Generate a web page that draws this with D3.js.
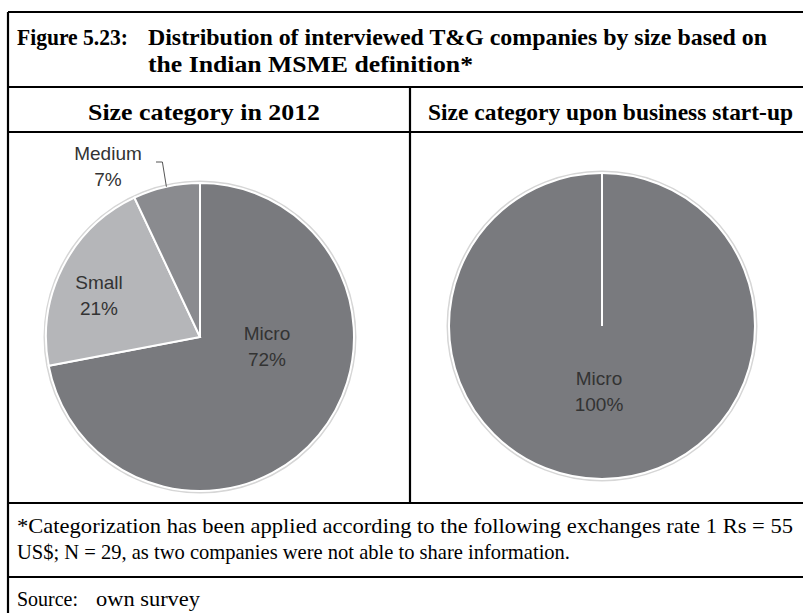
<!DOCTYPE html>
<html>
<head>
<meta charset="utf-8">
<script src="https://cdn.jsdelivr.net/npm/d3@7"></script>
<style>
  body { margin: 0; background: #fff; }
  svg { display: block; }
</style>
</head>
<body>
<script>
// data
var sizes2012 = ['Micro', 'Small', 'Medium'];
var shares2012 = [72, 21, 7];
var sizesStart = ['Micro'];
var sharesStart = [100];
var headers = ['Size category in 2012', 'Size category upon business start-up'];

var svg = d3.select('body').append('svg')
  .attr('width', 803)
  .attr('height', 613);

var serif = '"Liberation Serif", "Times New Roman", serif';
var sans = '"Liberation Sans", Arial, sans-serif';

var colorScale = d3.scaleOrdinal()
  .domain(['Micro', 'Small', 'Medium'])
  .range(['#797a7e', '#b5b6b9', '#8a8b8f']);

// table frame
var lines = [
  [8, 12, 803, 12],
  [8, 87, 803, 87],
  [8, 132, 803, 132],
  [8, 503, 803, 503],
  [8, 577, 803, 577],
  [8, 12, 8, 613],
  [410, 87, 410, 503]
];
svg.selectAll('.frame')
  .data(lines)
  .enter()
  .append('line')
  .attr('class', 'frame')
  .attr('x1', function (d) { return d[0]; })
  .attr('y1', function (d) { return d[1]; })
  .attr('x2', function (d) { return d[2]; })
  .attr('y2', function (d) { return d[3]; })
  .attr('stroke', '#000')
  .attr('stroke-width', 2.2);

function fitText(x, y, str, len, opts) {
  var t = svg.append('text')
    .attr('x', x)
    .attr('y', y)
    .attr('font-family', serif)
    .attr('font-size', opts.size)
    .attr('font-weight', opts.bold ? 'bold' : 'normal')
    .attr('fill', '#000')
    .text(str);
  if (len) {
    t.attr('textLength', len).attr('lengthAdjust', 'spacingAndGlyphs');
  }
  return t;
}

// title
fitText(17, 45, 'Figure 5.23:', 111, { size: 24, bold: true });
fitText(148, 45, 'Distribution of interviewed T&G companies by size based on', 619, { size: 24, bold: true });
fitText(148, 72, 'the Indian MSME definition*', 325, { size: 24, bold: true });

// column headers
fitText(88, 120, headers[0], 232, { size: 24, bold: true });
fitText(428, 120, headers[1], 365, { size: 24, bold: true });

// footnote and source
fitText(17, 533, '*Categorization has been applied according to the following exchanges rate 1 Rs = 55', 776, { size: 21 });
fitText(17, 559, 'US$; N = 29, as two companies were not able to share information.', 553, { size: 21 });
fitText(17, 606, 'Source:', 61, { size: 21 });
fitText(96, 606, 'own survey', 104, { size: 21 });

var pie = d3.pie().sort(null).value(function (d) { return d.value; });

function drawPie(cx, cy, r, names, values, labelPos) {
  var rows = names.map(function (n, i) { return { key: n, value: values[i] }; });
  var data_ready = pie(rows);
  var g = svg.append('g').attr('transform', 'translate(' + cx + ',' + cy + ')');
  var arc = d3.arc().innerRadius(0).outerRadius(r);

  // soft halo like the original's light rim
  g.append('circle')
    .attr('r', r + 1.5)
    .attr('fill', 'none')
    .attr('stroke', '#d6d6d6')
    .attr('stroke-width', 2);

  g.selectAll('path')
    .data(data_ready)
    .enter()
    .append('path')
    .attr('d', arc)
    .attr('fill', function (d) { return colorScale(d.data.key); })
    .attr('stroke', '#fff')
    .attr('stroke-width', 2);

  // single-slice pie still shows its seam at 12 o'clock
  if (data_ready.length == 1) {
    var a = data_ready[0].startAngle;
    g.append('line')
      .attr('x1', 0).attr('y1', 0)
      .attr('x2', r * Math.sin(a)).attr('y2', -r * Math.cos(a))
      .attr('stroke', '#fff')
      .attr('stroke-width', 2);
  }

  data_ready.forEach(function (d) {
    var p = labelPos[d.data.key];
    var t = g.append('text')
      .attr('x', p[0])
      .attr('y', p[1])
      .attr('text-anchor', 'middle')
      .attr('font-family', sans)
      .attr('font-size', 19)
      .attr('fill', '#333');
    t.append('tspan').attr('x', p[0]).attr('dy', 0).text(d.data.key);
    t.append('tspan').attr('x', p[0]).attr('dy', 26).text(d.data.value + '%');
    if (p[2]) {
      // leader line from label to slice edge
      var mid = (d.startAngle + d.endAngle) / 2;
      var ex = r * Math.sin(mid), ey = -r * Math.cos(mid);
      g.append('polyline')
        .attr('points', [[p[2][0], p[2][1]], [ex - 4, p[2][1]], [ex, ey]].join(' '))
        .attr('fill', 'none')
        .attr('stroke', '#555')
        .attr('stroke-width', 1);
    }
  });
}

drawPie(200, 337, 154, sizes2012, shares2012, {
  Micro: [67, 3],
  Small: [-101, -48],
  Medium: [-92, -177, [-44, -175]]
});

drawPie(602, 326, 153, sizesStart, sharesStart, {
  Micro: [-3, 59]
});
</script>
</body>
</html>
